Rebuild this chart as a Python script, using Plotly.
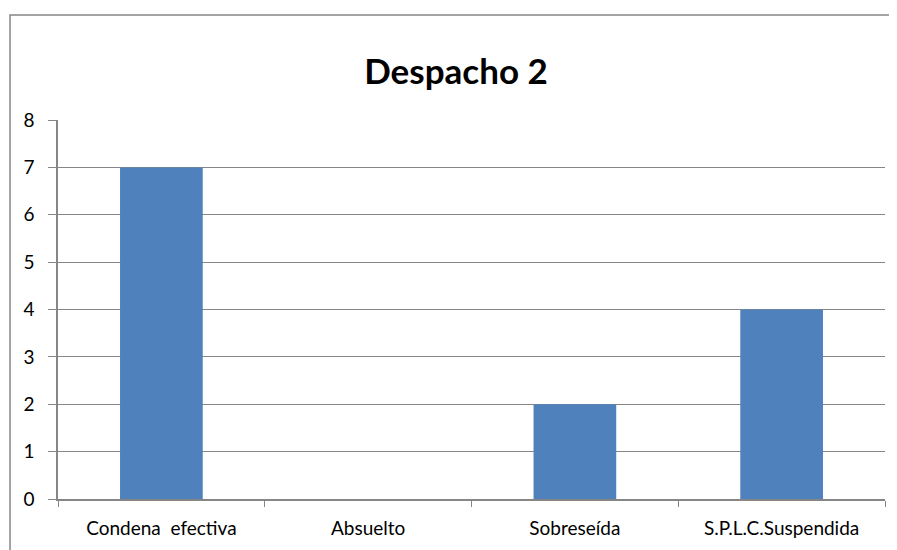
import plotly.graph_objects as go

categories = ["Condena\u00a0\u00a0efectiva", "Absuelto", "Sobreseída", "S.P.L.C.Suspendida"]
values = [7, 0, 2, 4]
y_ticks = [0, 1, 2, 3, 4, 5, 6, 7, 8]

grey = "#868686"
fig = go.Figure(go.Bar(x=categories, y=values, marker=dict(color="#4F81BD", line=dict(width=0)), width=0.4))

fig.update_layout(
    width=889, height=542,
    margin=dict(l=50, r=12, t=112, b=51),
    paper_bgcolor="white", plot_bgcolor="white",
    font=dict(family="Lato, Carlito, sans-serif", size=19, color="black"),
    title=dict(text="<b>Despacho 2</b>", x=0.504, xanchor="center", y=0.882, yanchor="middle",
               font=dict(size=35, color="black")),
    showlegend=False,
)
fig.update_yaxes(range=[0, 8], tickvals=y_ticks, showgrid=True, gridcolor=grey, gridwidth=1,
                 showline=True, linecolor=grey, linewidth=1.5, ticks="outside", ticklen=8,
                 tickcolor=grey, zeroline=False, fixedrange=True, ticklabelstandoff=10)
fig.update_xaxes(showline=True, linecolor=grey, linewidth=1.5, ticks="outside", ticklen=6,
                 tickcolor=grey, tickson="boundaries", showgrid=False, fixedrange=True,
                 ticklabelstandoff=11)

fig.add_shape(type="rect", xref="paper", yref="paper", x0=-0.058, y0=-0.3, x1=1.2, y1=1.277,
              line=dict(color=grey, width=1.5), fillcolor="rgba(0,0,0,0)", layer="below")

fig.write_html("out.html")
